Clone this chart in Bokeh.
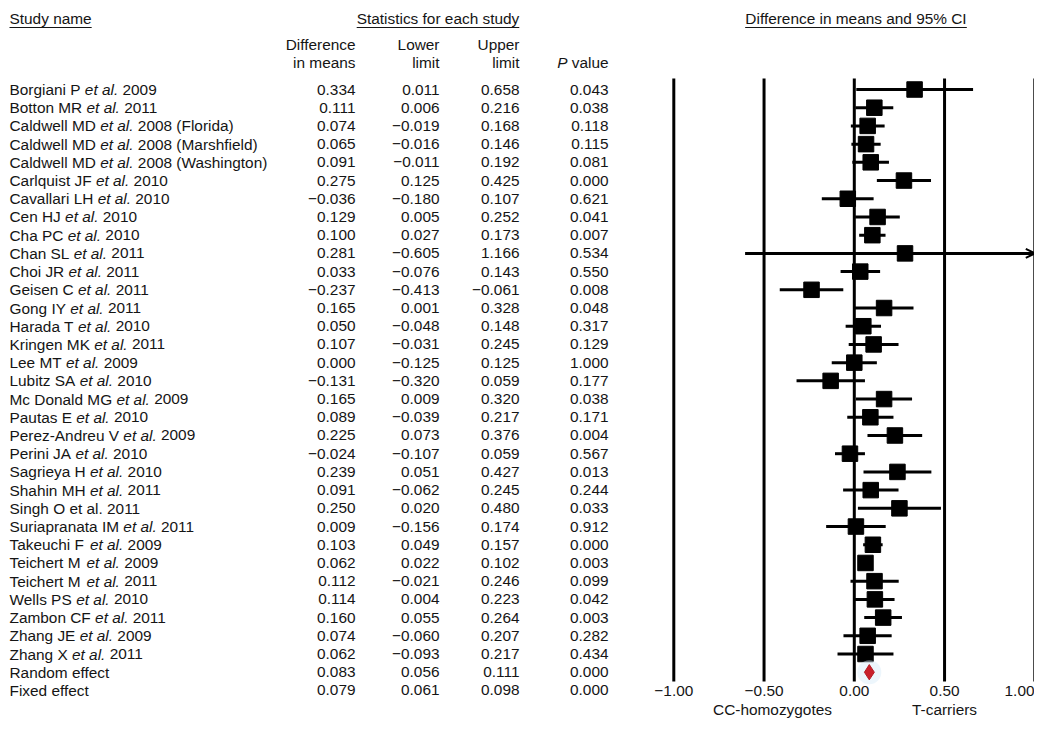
from bokeh.plotting import figure
from bokeh.models import Range1d, ColumnDataSource, Arrow, OpenHead
from bokeh.embed import file_html
from bokeh.resources import INLINE
from bokeh.core.properties import value

# ---------------- data ----------------
studies = [
    "Borgiani P *et al.* 2009",
    "Botton MR *et al.* 2011",
    "Caldwell MD *et al.* 2008 (Florida)",
    "Caldwell MD *et al.* 2008 (Marshfield)",
    "Caldwell MD *et al.* 2008 (Washington)",
    "Carlquist JF *et al.* 2010",
    "Cavallari LH *et al.* 2010",
    "Cen HJ *et al.* 2010",
    "Cha PC *et al.* 2010",
    "Chan SL *et al.* 2011",
    "Choi JR *et al.* 2011",
    "Geisen C *et al.* 2011",
    "Gong IY *et al.* 2011",
    "Harada T *et al.* 2010",
    "Kringen MK *et al.* 2011",
    "Lee MT *et al.* 2009",
    "Lubitz SA *et al.* 2010",
    "Mc Donald MG *et al.* 2009",
    "Pautas E *et al.* 2010",
    "Perez-Andreu V *et al.* 2009",
    "Perini JA *et al.* 2010",
    "Sagrieya H *et al.* 2010",
    "Shahin MH *et al.* 2011",
    "Singh O et al. 2011",
    "Suriapranata IM *et al.* 2011",
    "Takeuchi F *et al.* 2009",
    "Teichert M *et al.* 2009",
    "Teichert M *et al.* 2011",
    "Wells PS *et al.* 2010",
    "Zambon CF *et al.* 2011",
    "Zhang JE *et al.* 2009",
    "Zhang X *et al.* 2011",
    "Random effect",
    "Fixed effect",
]
diff = [0.334, 0.111, 0.074, 0.065, 0.091, 0.275, -0.036, 0.129, 0.100, 0.281,
        0.033, -0.237, 0.165, 0.050, 0.107, 0.000, -0.131, 0.165, 0.089, 0.225,
        -0.024, 0.239, 0.091, 0.250, 0.009, 0.103, 0.062, 0.112, 0.114, 0.160,
        0.074, 0.062, 0.083, 0.079]
lower = [0.011, 0.006, -0.019, -0.016, -0.011, 0.125, -0.180, 0.005, 0.027, -0.605,
         -0.076, -0.413, 0.001, -0.048, -0.031, -0.125, -0.320, 0.009, -0.039, 0.073,
         -0.107, 0.051, -0.062, 0.020, -0.156, 0.049, 0.022, -0.021, 0.004, 0.055,
         -0.060, -0.093, 0.056, 0.061]
upper = [0.658, 0.216, 0.168, 0.146, 0.192, 0.425, 0.107, 0.252, 0.173, 1.166,
         0.143, -0.061, 0.328, 0.148, 0.245, 0.125, 0.059, 0.320, 0.217, 0.376,
         0.059, 0.427, 0.245, 0.480, 0.174, 0.157, 0.102, 0.246, 0.223, 0.264,
         0.207, 0.217, 0.111, 0.098]
pvals = [0.043, 0.038, 0.118, 0.115, 0.081, 0.000, 0.621, 0.041, 0.007, 0.534,
         0.550, 0.008, 0.048, 0.317, 0.129, 1.000, 0.177, 0.038, 0.171, 0.004,
         0.567, 0.013, 0.244, 0.033, 0.912, 0.000, 0.003, 0.099, 0.042, 0.003,
         0.282, 0.434, 0.000, 0.000]
n_studies = 32
x_ticks = [-1.0, -0.5, 0.0, 0.5, 1.0]
x_tick_labels = ["\u22121.00", "\u22120.50", "0.00", "0.50", "1.00"]
side_labels = ["CC-homozygotes", "T-carriers"]

# ---------------- layout helpers ----------------
W, H = 1034, 720
SCALE = 180.5            # px per data unit
X0 = 853.8               # px of x = 0
ROW0, ROWH = 89.0, 18.21 # px of first row, row height


def X(px):
    return (px - X0) / SCALE


def Y(py):
    return (py - ROW0) / ROWH


FONT = value("Liberation Sans")
FS = 15.4
FSS = f"{FS}px"
TXT = "#151515"

AW = {' ': 278, '.': 278, '(': 333, ')': 333, '-': 333, '%': 889, '\u2212': 584}
for c in '0123456789':
    AW[c] = 556
AW.update(dict(a=556, b=556, c=500, d=556, e=556, f=278, g=556, h=556, i=222, j=222,
               k=500, l=222, m=833, n=556, o=556, p=556, q=556, r=333, s=500, t=278,
               u=556, v=500, w=722, x=500, y=500, z=500))
AW.update(dict(A=667, B=667, C=722, D=722, E=667, F=611, G=778, H=722, I=278, J=500,
               K=667, L=556, M=833, N=722, O=778, P=667, Q=778, R=722, S=667, T=611,
               U=722, V=667, W=944, X=667, Y=667, Z=611))


def tw(s, fs=FS):
    return sum(AW.get(ch, 556) for ch in s) * fs / 1000.0


p = figure(width=W, height=H, x_range=Range1d(X(0), X(W)),
           y_range=Range1d(Y(H), Y(0)), x_axis_type=None, y_axis_type=None,
           output_backend="svg", toolbar_location=None, min_border=0,
           outline_line_color=None)

rows = list(range(len(studies)))
LEFT = 9

# ---------------- study names (with italic et al.) ----------------
norm = dict(x=[], y=[], text=[], off=[])
ital = dict(x=[], y=[], text=[], off=[])
for i, name in enumerate(studies):
    if "*" in name:
        pre, mid, post = name.split("*")
        norm["x"].append(X(LEFT)); norm["y"].append(i); norm["text"].append(pre.strip()); norm["off"].append(0)
        ital["x"].append(X(LEFT)); ital["y"].append(i); ital["text"].append(mid); ital["off"].append(tw(pre))
        norm["x"].append(X(LEFT)); norm["y"].append(i); norm["text"].append(post.strip()); norm["off"].append(tw(pre + mid + " "))
    else:
        norm["x"].append(X(LEFT)); norm["y"].append(i); norm["text"].append(name); norm["off"].append(0)

p.text(x="x", y="y", text="text", x_offset="off", source=ColumnDataSource(norm),
       text_font=FONT, text_font_size=FSS, text_color=TXT,
       text_align="left", text_baseline="middle")
p.text(x="x", y="y", text="text", x_offset="off", source=ColumnDataSource(ital),
       text_font=FONT, text_font_size=FSS, text_color=TXT, text_font_style="italic",
       text_align="left", text_baseline="middle")


def fmt(v):
    return f"{v:.3f}".replace("-", "\u2212")


for col, xr in ((diff, 355), (lower, 439), (upper, 519), (pvals, 608)):
    p.text(x=[X(xr)] * len(col), y=rows, text=[fmt(v) for v in col],
           text_font=FONT, text_font_size=FSS, text_color=TXT,
           text_align="right", text_baseline="middle")

# ---------------- headers ----------------
def htext(x, y, t, align="left", style="normal"):
    p.text(x=[x], y=[y], text=[t], text_font=FONT, text_font_size=FSS,
           text_color=TXT, text_align=align, text_baseline="middle", text_font_style=style)


def underline(xc, t, align):
    w = tw(t) / SCALE
    x0 = xc if align == "left" else xc - w / 2
    p.segment(x0=[x0], y0=[Y(27)], x1=[x0 + w], y1=[Y(27)], line_color=TXT, line_width=1)


htext(X(LEFT), Y(18), "Study name")
underline(X(LEFT), "Study name", "left")

st = "Statistics for each study"
htext(X(437.5), Y(18), st, align="center")
underline(X(437.5), st, "center")

ci = "Difference in means and 95% CI"
htext(X(855.5), Y(18), ci, align="center")
underline(X(855.5), ci, "center")

htext(X(355), Y(44), "Difference", align="right")
htext(X(355), Y(62), "in means", align="right")
htext(X(439), Y(44), "Lower", align="right")
htext(X(439), Y(62), "limit", align="right")
htext(X(519), Y(44), "Upper", align="right")
htext(X(519), Y(62), "limit", align="right")
htext(X(608), Y(62), "value", align="right")
htext(X(608) - tw(" value") / SCALE, Y(62), "P", align="right", style="italic")

# ---------------- forest plot ----------------
p.segment(x0=x_ticks, y0=[Y(78)] * len(x_ticks), x1=x_ticks, y1=[Y(681)] * len(x_ticks),
          line_color="black", line_width=3)

xmax = max(x_ticks)
xmin = min(x_ticks)
lo_c = [max(v, xmin) for v in lower[:n_studies]]
hi_c = [min(v, xmax) for v in upper[:n_studies]]
p.segment(x0=lo_c, y0=rows[:n_studies], x1=hi_c, y1=rows[:n_studies],
          line_color="black", line_width=3)
for i in range(n_studies):
    if upper[i] > xmax:
        p.add_layout(Arrow(end=OpenHead(size=9, line_width=2, line_color="black"),
                           x_start=xmax - 0.05, y_start=i, x_end=xmax, y_end=i,
                           line_width=2, line_color="black"))

p.scatter(x=diff[:n_studies], y=rows[:n_studies], marker="square", size=15.5,
          fill_color="black", line_color="black")

# random-effect diamond
r = n_studies
p.scatter(x=[diff[r]], y=[r], size=24, marker="circle", fill_color="#d8ecf8",
          fill_alpha=0.45, line_color=None)
p.patch(x=[lower[r], diff[r], upper[r], diff[r]], y=[r, r - 0.42, r, r + 0.42],
        fill_color="#c9202a", line_color="#b51c25", line_width=1)

# tick labels (the last one kept inside the canvas) and side labels
edge = X(W)
tx, ta = [], []
for t, lab in zip(x_ticks, x_tick_labels):
    if t + tw(lab) / 2 / SCALE > edge:
        tx.append(edge); ta.append("right")
    else:
        tx.append(t); ta.append("center")
for t, lab, a in zip(tx, x_tick_labels, ta):
    p.text(x=[t], y=[Y(690)], text=[lab], text_font=FONT, text_font_size=FSS,
           text_color=TXT, text_align=a, text_baseline="middle")
p.text(x=[X(772), 0.5], y=[Y(709)] * 2, text=side_labels,
       text_font=FONT, text_font_size=FSS, text_color=TXT,
       text_align="center", text_baseline="middle")

open("out.html", "w").write(file_html(p, INLINE))
